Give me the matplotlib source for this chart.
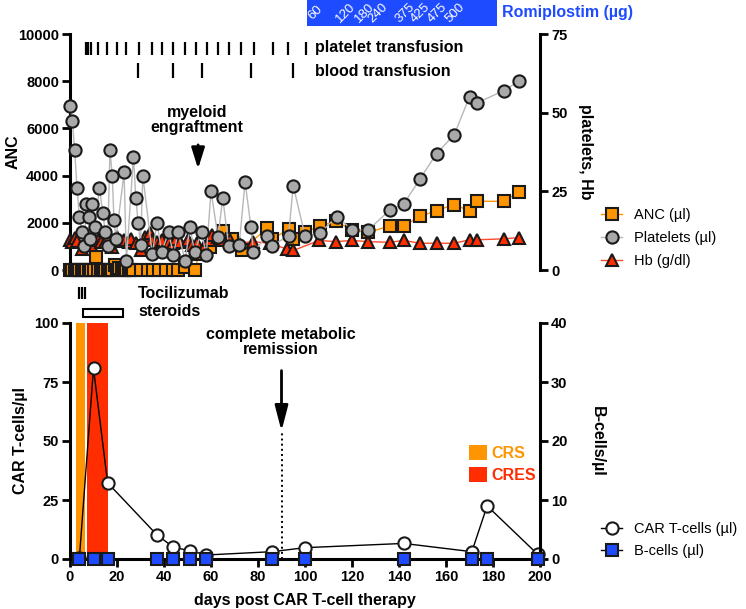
import matplotlib
matplotlib.use("Agg")
import matplotlib.pyplot as plt
from matplotlib.patches import Rectangle, Patch

plt.rcParams['font.family'] = ['Liberation Sans', 'DejaVu Sans']
plt.rcParams['font.weight'] = 'bold'
plt.rcParams['axes.labelweight'] = 'bold'
plt.rcParams['axes.linewidth'] = 2.2

ORANGE = '#ff9500'
RED = '#ff2d00'
GREY = '#a9a9a9'
BLUE = '#1e4bff'
EDGE = '#1a1a1a'

# ---------------- data: top panel ----------------
anc_days = [0, 1, 2, 3, 4, 5, 6, 7, 8, 9, 10, 11, 12, 13, 14, 15, 16, 17, 18, 19,
            20, 21, 22, 23, 24, 25, 26, 27, 30, 33, 35.5, 38, 41, 44, 46, 49, 53,
            55, 59.5, 65, 69, 73, 84, 86, 93, 95, 100, 106.5, 113, 120, 127,
            136, 142, 149, 156, 163.5, 170, 173, 184.5, 191]
anc_vals = [0, 0, 0, 0, 0, 0, 0, 0, 0, 0, 0, 550, 0, 0, 0, 0, 0, 0, 0, 200,
            0, 80, 0, 0, 0, 0, 0, 0, 0, 0, 0, 0, 0, 0, 0, 140, 0,
            680, 990, 1670, 1300, 850, 1770, 1300, 1730, 1300, 1600, 1870, 2060, 1700, 1590,
            1870, 1870, 2270, 2520, 2770, 2510, 2910, 2910, 3300]

plt_days = [0, 1, 2, 3, 4, 5, 6, 7, 8, 8.5, 9.5, 10.5, 12.5, 14, 15, 16, 17, 18, 18.7, 19.6,
            23, 24, 27, 28, 29, 30, 31, 35, 37, 39, 42, 44, 46, 49, 51, 53, 56, 58,
            60, 63, 65, 67.5, 72, 74.5, 77, 78, 84, 86, 93, 95, 100, 106.5, 113.5, 120,
            127, 136, 142, 149, 156, 163.5, 170, 173, 184.5, 191]
plt_vals = [52, 47.5, 38, 26, 17, 12, 7.7, 21, 17, 10, 21, 13.7, 26, 18, 12, 7.7, 38, 30, 16, 10,
            31, 2.9, 36, 23, 15, 8, 30, 5.1, 15, 5.8, 12, 4.8, 12, 2.9, 13.7, 5.8, 12, 4.8,
            25, 10.5, 23, 7.7, 8, 28, 13.7, 5.8, 10.9, 7.7, 10.9, 26.8, 10.9, 11.8, 17, 12.8,
            12.8, 19, 21, 29, 37, 43, 55, 53, 57, 60]

hb_days = [0, 1, 2, 3, 5, 7, 9, 10, 12, 13, 15, 17, 18, 20, 21, 23, 25, 26, 28, 30,
           32, 34, 35, 37, 39, 42, 44, 45, 47, 50, 52, 54, 57, 59, 60.5, 63, 65, 68, 72,
           78, 85, 92.5, 95, 106, 113, 120, 127, 136, 142, 149, 156, 163.5, 170, 173,
           184.5, 191]
hb_vals = [9.6, 9.0, 10.1, 9.2, 6.6, 9.6, 8.0, 10.0, 9.6, 8.8, 9.0, 10.3, 7.4, 10.6, 9.2, 9.6,
           9.0, 10.0, 8.5, 6.4, 10.6, 11.7, 9.4, 9.0, 9.6, 9.0, 8.5, 10.0, 9.0, 9.6, 8.0, 8.5,
           7.4, 9.6, 11.2, 10.6, 9.6, 9.4, 8.6, 9.0, 8.5, 6.6, 6.2, 9.4, 9.0, 9.4, 9.0, 8.8,
           9.4, 8.5, 8.5, 8.5, 9.6, 9.6, 9.9, 10.3]

platelet_tx_days = [6.7, 7.8, 8.9, 11.8, 15.9, 19.9, 23.7, 29.5, 35, 39.3, 43.7, 48.9,
                    53.5, 58.2, 62.8, 67.7, 72.6, 78.3, 86.5, 92.9, 100.3]
blood_tx_days = [28.8, 43.7, 56, 76.9, 95]

romi_period = (100.8, 181.6)
romi_dose_days = [104.5, 117.4, 125.5, 131, 142.6, 148.9, 156.2, 163.8]
romi_doses = ['60', '120', '180', '240', '375', '425', '475', '500']

engraftment_day = 54.5

# ---------------- data: bottom panel ----------------
cart_days = [4, 10, 16, 37, 44, 51, 58, 86, 100, 142, 171, 177.5, 199]
cart_vals = [0.5, 80.8, 32.3, 10.2, 5.0, 3.5, 1.7, 3.1, 4.8, 6.6, 3.1, 22.5, 2.0]
bcell_days = [4, 10, 16, 37, 44, 51, 58, 86, 100, 142, 171, 177.5, 199]
bcell_vals = [0, 0, 0, 0, 0, 0, 0, 0, 0, 0, 0, 0, 0]

crs_period = (2.5, 6.4)
cres_period = (7.4, 16.3)
toci_days = [3.8, 5.1, 6.4]
steroid_period = (5.4, 22.7)
remission_day = 90

# ---------------- figure ----------------
W, H = 746, 609
fig = plt.figure(figsize=(W / 100, H / 100), dpi=100)


def px_box(l, t, r, b):
    return [l / W, 1 - b / H, (r - l) / W, (b - t) / H]


ax1 = fig.add_axes(px_box(70, 34, 540, 270))
ax1r = ax1.twinx()
ax2 = fig.add_axes(px_box(70, 323, 540, 559))
ax2r = ax2.twinx()

for ax in (ax1, ax1r, ax2, ax2r):
    ax.tick_params(length=6, width=2, labelsize=10.5, pad=2)
    ax.spines['top'].set_visible(False)
    ax.set_xlim(0, 200)
for ax in (ax1, ax2):
    ax.spines['right'].set_visible(False)
for ax in (ax1r, ax2r):
    ax.spines['left'].set_visible(False)
    ax.spines['bottom'].set_visible(False)
ax1.spines['bottom'].set_visible(False)
ax1.tick_params(axis='x', bottom=False, labelbottom=False)

# top panel
mk = dict(mec=EDGE, mew=1.5, clip_on=False)
l_anc, = ax1.plot(anc_days, anc_vals, '-s', color=ORANGE, lw=1, mfc=ORANGE, ms=8.5, zorder=3, **mk)
l_hb, = ax1r.plot(hb_days, hb_vals, '-^', color='#ff4a2e', lw=1, mfc=RED, ms=9, zorder=3, **mk)
l_plt, = ax1r.plot(plt_days, plt_vals, '-o', color='#b8b8b8', lw=1, mfc=GREY, ms=8.8, zorder=4, **mk)

ax1.set_ylim(0, 10000)
ax1.set_yticks(range(0, 10001, 2000))
ax1r.set_ylim(0, 75)
ax1r.set_yticks([0, 25, 50, 75])

ax1.set_ylabel('ANC', fontsize=11.5)
ax1.yaxis.set_label_coords(-0.106, 0.5)
ax1r.set_ylabel('platelets, Hb', fontsize=11.5, rotation=270, va='bottom')
ax1r.yaxis.set_label_coords(1.081, 0.5)

xt1 = ax1.get_xaxis_transform()
ax1.vlines(platelet_tx_days, 0.911, 0.967, transform=xt1, color='k', lw=1.6)
ax1.vlines(blood_tx_days, 0.815, 0.877, transform=xt1, color='k', lw=1.6)
ax1.text(104.3, 0.941, 'platelet transfusion', transform=xt1, va='center', fontsize=11.5)
ax1.text(104.3, 0.839, 'blood transfusion', transform=xt1, va='center', fontsize=11.5)

ax1.add_patch(Rectangle((romi_period[0], 1.034), romi_period[1] - romi_period[0], 0.12,
                        transform=xt1, color=BLUE, lw=0, clip_on=False))
for d, lab in zip(romi_dose_days, romi_doses):
    ax1.text(d, 1.089, lab, transform=xt1, rotation=45, ha='center', va='center',
             rotation_mode='anchor', color='w', fontsize=9.5, fontweight='normal')
ax1.text(romi_period[1] + 2.3, 1.089, 'Romiplostim (µg)', transform=xt1, va='center',
         color=BLUE, fontsize=11.5)

ax1.text(engraftment_day - 0.5, 0.636, 'myeloid\nengraftment', transform=xt1,
         ha='center', va='center', fontsize=11.5, linespacing=1.05)
ax1.annotate('', xy=(engraftment_day, 4170), xytext=(engraftment_day, 5420),
             arrowprops=dict(arrowstyle='-|>,head_length=0.7,head_width=0.22',
                             mutation_scale=18, lw=2, color='k'))

fig.legend(handles=[l_anc, l_plt, l_hb], labels=['ANC (µl)', 'Platelets (µl)', 'Hb (g/dl)'],
           loc='center left', bbox_to_anchor=(601 / W, 1 - 238 / H), frameon=False,
           borderpad=0, borderaxespad=0, handlelength=1.45, handletextpad=0.8, labelspacing=0.62,
           numpoints=1, prop=dict(size=10.5, weight='normal'))

# bottom panel
ax2.axvspan(*crs_period, color=ORANGE, lw=0, zorder=0)
ax2.axvspan(*cres_period, color=RED, lw=0, zorder=0)
l_car, = ax2.plot(cart_days, cart_vals, '-o', color='k', lw=1, mfc='w', ms=8.8, zorder=4, **mk)
l_b, = ax2r.plot(bcell_days, bcell_vals, '-s', color='k', lw=1, mfc=BLUE, ms=8.5, zorder=4, **mk)

ax2.set_ylim(0, 100)
ax2.set_yticks([0, 25, 50, 75, 100])
ax2r.set_ylim(0, 40)
ax2r.set_yticks([0, 10, 20, 30, 40])
ax2.set_xticks(range(0, 201, 20))

ax2.set_ylabel('CAR T-cells/µl', fontsize=11.5)
ax2.yaxis.set_label_coords(-0.09, 0.5)
ax2r.set_ylabel('B-cells/µl', fontsize=11.5, rotation=270, va='bottom')
ax2r.yaxis.set_label_coords(1.106, 0.5)
ax2.set_xlabel('days post CAR T-cell therapy', fontsize=11.5)
ax2.xaxis.set_label_coords(0.5, -0.145)

for ax in (ax1, ax1r, ax2, ax2r):
    for lab in ax.get_xticklabels() + ax.get_yticklabels():
        lab.set_fontweight('bold')

xt2 = ax2.get_xaxis_transform()
ax2.vlines(toci_days, 1.100, 1.154, transform=xt2, color='k', lw=1.6, clip_on=False)
ax2.add_patch(Rectangle((steroid_period[0], 1.027), steroid_period[1] - steroid_period[0], 0.032,
                        transform=xt2, fc='w', ec='k', lw=1.5, clip_on=False))
ax2.text(29, 1.127, 'Tocilizumab', transform=xt2, va='center', fontsize=11.5)
ax2.text(29, 1.047, 'steroids', transform=xt2, va='center', fontsize=11.5)

ax2.text(remission_day - 0.5, 0.919, 'complete metabolic\nremission', transform=xt2,
         ha='center', va='center', fontsize=11.5, linespacing=1.05)
ax2.vlines(remission_day, 0, 54, color='k', lw=1.4, linestyles=':')
ax2.annotate('', xy=(remission_day, 53), xytext=(remission_day, 81),
             arrowprops=dict(arrowstyle='-|>,head_length=0.85,head_width=0.22',
                             mutation_scale=18, lw=2, color='k'))

ax2.legend(handles=[Patch(facecolor=ORANGE), Patch(facecolor=RED)], labels=['CRS', 'CRES'],
           loc='center left', bbox_to_anchor=(469 / W, 1 - 464 / H), bbox_transform=fig.transFigure,
           frameon=False, borderpad=0, borderaxespad=0, handlelength=1.1, handleheight=1.1,
           handletextpad=0.3, labelspacing=0.35, labelcolor=[ORANGE, RED],
           prop=dict(size=11.5, weight='bold'))

fig.legend(handles=[l_car, l_b], labels=['CAR T-cells (µl)', 'B-cells (µl)'],
           loc='center left', bbox_to_anchor=(601 / W, 1 - 540 / H), frameon=False,
           borderpad=0, borderaxespad=0, handlelength=1.45, handletextpad=0.8, labelspacing=0.55,
           numpoints=1, prop=dict(size=10.5, weight='normal'))

fig.savefig('out.png', dpi=100)
